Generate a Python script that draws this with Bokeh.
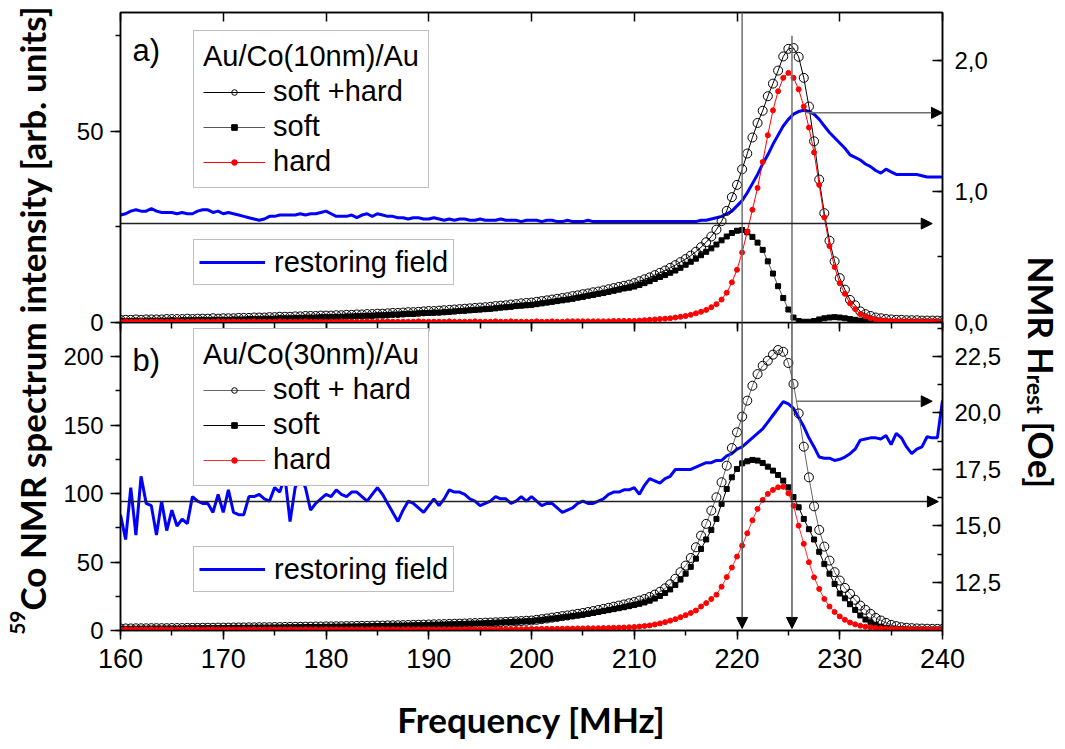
import numpy as np
from math import pi
from bokeh.plotting import figure
from bokeh.models import (Range1d, LinearAxis, SingleIntervalTicker, CustomJSTickFormatter,
                          Legend, LegendItem, Arrow, NormalHead, Label)
from bokeh.layouts import row, column
from bokeh.embed import file_html
from bokeh.resources import INLINE

# ---------------- data (frequency grid 160..240 MHz, step 0.5) ----------------
freq = np.arange(160.0, 240.25, 0.5)

# panel a) Au/Co(10nm)/Au  -- left axis (arb. units)
total_a = [
    0.7, 0.7, 0.7, 0.8, 0.7, 0.8, 0.8, 0.8, 0.8, 0.9,
    0.9, 0.9, 0.9, 1.0, 0.9, 1.0, 1.0, 1.0, 1.1, 1.0,
    1.1, 1.1, 1.1, 1.2, 1.2, 1.2, 1.3, 1.3, 1.3, 1.4,
    1.4, 1.5, 1.5, 1.5, 1.6, 1.6, 1.7, 1.7, 1.7, 1.8,
    1.8, 1.8, 1.9, 1.9, 2.0, 2.0, 2.1, 2.1, 2.2, 2.2,
    2.3, 2.3, 2.4, 2.5, 2.5, 2.6, 2.7, 2.7, 2.8, 2.9,
    3.0, 3.0, 3.1, 3.2, 3.3, 3.4, 3.5, 3.6, 3.7, 3.8,
    3.9, 4.0, 4.1, 4.3, 4.4, 4.5, 4.7, 4.8, 5.0, 5.1,
    5.2, 5.4, 5.6, 5.8, 6.0, 6.2, 6.4, 6.6, 6.9, 7.1,
    7.4, 7.6, 7.9, 8.1, 8.4, 8.7, 9.0, 9.3, 9.6, 9.9,
    10.3, 10.8, 11.3, 11.8, 12.4, 13.0, 13.6, 14.3, 15.0, 15.8,
    16.6, 17.5, 18.5, 19.7, 21.0, 22.5, 24.3, 26.5, 29.2, 32.8,
    36.0, 40.1, 44.2, 48.4, 52.2, 55.4, 59.2, 62.5, 65.9, 69.6,
    71.6, 71.8, 69.5, 64.0, 56.5, 47.4, 37.4, 28.6, 21.4, 16.0,
    11.6, 8.6, 5.9, 4.5, 2.9, 2.2, 1.7, 1.3, 1.1, 0.9,
    0.8, 0.7, 0.7, 0.6, 0.6, 0.6, 0.5, 0.5, 0.5, 0.5,
    0.5]
soft_a = [
    0.4, 0.4, 0.4, 0.5, 0.4, 0.5, 0.5, 0.5, 0.5, 0.5,
    0.6, 0.5, 0.6, 0.6, 0.6, 0.6, 0.7, 0.6, 0.7, 0.7,
    0.7, 0.7, 0.8, 0.8, 0.8, 0.9, 0.9, 0.9, 1.0, 1.0,
    1.0, 1.1, 1.1, 1.1, 1.2, 1.2, 1.3, 1.3, 1.3, 1.4,
    1.4, 1.4, 1.5, 1.5, 1.6, 1.6, 1.7, 1.7, 1.8, 1.8,
    1.9, 1.9, 2.0, 2.1, 2.1, 2.2, 2.3, 2.3, 2.4, 2.5,
    2.5, 2.6, 2.6, 2.7, 2.8, 2.9, 3.0, 3.1, 3.2, 3.3,
    3.4, 3.5, 3.6, 3.7, 3.9, 4.0, 4.1, 4.3, 4.4, 4.5,
    4.6, 4.8, 5.0, 5.2, 5.4, 5.6, 5.8, 6.0, 6.2, 6.5,
    6.7, 7.0, 7.2, 7.5, 7.7, 8.0, 8.3, 8.6, 8.9, 9.1,
    9.4, 9.8, 10.3, 10.8, 11.4, 11.9, 12.4, 13.0, 13.6, 14.3,
    15.1, 15.9, 16.7, 17.6, 18.5, 19.4, 20.4, 21.5, 22.5, 23.4,
    24.0, 24.2, 23.6, 22.4, 20.9, 19.0, 16.0, 12.8, 9.5, 6.4,
    3.4, 1.3, 0.4, 0.2, 0.2, 0.4, 0.8, 1.1, 1.3, 1.4,
    1.3, 1.1, 0.9, 0.7, 0.5, 0.4, 0.3, 0.3, 0.2, 0.2,
    0.2, 0.2, 0.2, 0.2, 0.2, 0.2, 0.2, 0.2, 0.2, 0.2,
    0.2]
hard_a = [
    0.2, 0.3, 0.2, 0.2, 0.3, 0.2, 0.2, 0.3, 0.2, 0.2,
    0.2, 0.3, 0.2, 0.2, 0.2, 0.3, 0.2, 0.2, 0.2, 0.3,
    0.2, 0.2, 0.3, 0.2, 0.2, 0.2, 0.3, 0.2, 0.2, 0.2,
    0.2, 0.3, 0.2, 0.2, 0.2, 0.2, 0.3, 0.2, 0.2, 0.2,
    0.2, 0.2, 0.2, 0.3, 0.2, 0.2, 0.2, 0.2, 0.3, 0.2,
    0.2, 0.2, 0.3, 0.2, 0.2, 0.2, 0.2, 0.2, 0.3, 0.2,
    0.2, 0.2, 0.2, 0.2, 0.3, 0.2, 0.2, 0.2, 0.2, 0.3,
    0.2, 0.2, 0.2, 0.3, 0.2, 0.2, 0.3, 0.2, 0.2, 0.2,
    0.2, 0.3, 0.2, 0.2, 0.3, 0.2, 0.2, 0.3, 0.3, 0.3,
    0.3, 0.3, 0.3, 0.3, 0.3, 0.3, 0.4, 0.4, 0.4, 0.4,
    0.4, 0.5, 0.6, 0.7, 0.8, 0.9, 1.0, 1.1, 1.3, 1.5,
    1.7, 2.0, 2.4, 2.8, 3.3, 4.0, 4.8, 6.0, 7.8, 10.5,
    13.8, 18.3, 23.8, 29.5, 35.2, 42.0, 49.0, 55.5, 60.5, 64.0,
    65.3, 64.0, 61.0, 56.5, 51.0, 44.5, 36.0, 27.5, 20.0, 14.5,
    10.3, 7.5, 5.0, 3.5, 2.2, 1.6, 1.1, 0.8, 0.6, 0.5,
    0.4, 0.4, 0.3, 0.3, 0.3, 0.3, 0.3, 0.3, 0.3, 0.3,
    0.3]
# restoring field a) -- right axis (Oe)
rfield_a = [
    0.82, 0.83, 0.85, 0.86, 0.85, 0.85, 0.87, 0.85, 0.84, 0.84,
    0.84, 0.83, 0.84, 0.83, 0.83, 0.85, 0.86, 0.86, 0.84, 0.85,
    0.83, 0.84, 0.83, 0.82, 0.81, 0.80, 0.79, 0.78, 0.79, 0.81,
    0.81, 0.82, 0.82, 0.82, 0.82, 0.83, 0.82, 0.83, 0.83, 0.84,
    0.85, 0.83, 0.81, 0.81, 0.81, 0.82, 0.80, 0.82, 0.83, 0.81,
    0.83, 0.82, 0.81, 0.81, 0.80, 0.80, 0.79, 0.80, 0.80, 0.79,
    0.79, 0.80, 0.79, 0.78, 0.79, 0.78, 0.79, 0.79, 0.78, 0.78,
    0.79, 0.78, 0.78, 0.78, 0.79, 0.78, 0.78, 0.78, 0.77, 0.78,
    0.78, 0.78, 0.77, 0.78, 0.78, 0.77, 0.77, 0.78, 0.77, 0.77,
    0.77, 0.78, 0.77, 0.77, 0.77, 0.77, 0.77, 0.77, 0.77, 0.77,
    0.77, 0.77, 0.77, 0.77, 0.77, 0.77, 0.77, 0.77, 0.77, 0.77,
    0.77, 0.77, 0.77, 0.78, 0.78, 0.79, 0.80, 0.81, 0.83, 0.85,
    0.89, 0.93, 0.99, 1.06, 1.13, 1.21, 1.28, 1.36, 1.43, 1.50,
    1.55, 1.59, 1.61, 1.62, 1.61, 1.59, 1.55, 1.50, 1.45, 1.41,
    1.37, 1.33, 1.28, 1.26, 1.24, 1.21, 1.19, 1.16, 1.14, 1.17,
    1.15, 1.13, 1.13, 1.13, 1.13, 1.13, 1.12, 1.11, 1.11, 1.11,
    1.11]

# panel b) Au/Co(30nm)/Au
total_b = [
    1.5, 1.5, 1.5, 1.6, 1.6, 1.6, 1.7, 1.7, 1.7, 1.7,
    1.8, 1.8, 1.8, 1.9, 1.9, 1.9, 2.0, 2.0, 2.0, 2.1,
    2.1, 2.1, 2.2, 2.2, 2.2, 2.3, 2.3, 2.4, 2.4, 2.4,
    2.5, 2.5, 2.6, 2.6, 2.7, 2.7, 2.8, 2.8, 2.9, 2.9,
    3.0, 3.0, 3.1, 3.1, 3.2, 3.2, 3.3, 3.4, 3.4, 3.5,
    3.6, 3.6, 3.7, 3.8, 3.8, 3.9, 4.0, 4.1, 4.2, 4.3,
    4.4, 4.5, 4.6, 4.7, 4.8, 4.9, 5.0, 5.1, 5.3, 5.4,
    5.5, 5.7, 5.8, 6.0, 6.1, 6.3, 6.5, 6.7, 6.9, 7.1,
    7.3, 7.8, 8.3, 8.8, 9.4, 9.9, 10.5, 11.0, 11.6, 12.2,
    12.8, 13.5, 14.2, 15.0, 15.8, 16.6, 17.4, 18.2, 19.0, 19.9,
    20.8, 21.9, 23.0, 24.5, 26.2, 28.3, 30.8, 33.8, 37.8, 42.6,
    47.4, 53.0, 60.8, 69.3, 77.9, 87.6, 97.3, 108.3, 120.4, 133.3,
    144.8, 156.2, 167.9, 178.8, 187.3, 193.4, 197.1, 201.5, 204.9, 203.6,
    195.4, 180.1, 158.6, 134.3, 111.9, 90.7, 73.5, 61.3, 51.1, 42.6,
    36.5, 31.1, 26.8, 22.4, 18.2, 15.1, 12.2, 9.2, 7.3, 5.6,
    4.1, 3.2, 2.4, 2.0, 1.7, 1.5, 1.4, 1.3, 1.2, 1.2,
    1.1]
soft_b = [
    1.2, 1.2, 1.2, 1.3, 1.3, 1.3, 1.4, 1.4, 1.4, 1.4,
    1.5, 1.5, 1.5, 1.6, 1.6, 1.6, 1.7, 1.7, 1.7, 1.8,
    1.8, 1.8, 1.9, 1.9, 1.9, 2.0, 2.0, 2.1, 2.1, 2.1,
    2.2, 2.2, 2.3, 2.3, 2.4, 2.4, 2.5, 2.5, 2.6, 2.6,
    2.7, 2.7, 2.8, 2.8, 2.9, 2.9, 3.0, 3.1, 3.1, 3.2,
    3.3, 3.3, 3.4, 3.5, 3.5, 3.6, 3.7, 3.8, 3.9, 4.0,
    4.1, 4.2, 4.3, 4.4, 4.5, 4.6, 4.7, 4.8, 5.0, 5.1,
    5.2, 5.4, 5.5, 5.7, 5.8, 6.0, 6.2, 6.4, 6.6, 6.8,
    7.0, 7.4, 7.8, 8.2, 8.7, 9.1, 9.6, 10.1, 10.6, 11.1,
    11.6, 12.2, 12.8, 13.5, 14.2, 14.9, 15.6, 16.3, 17.0, 17.8,
    18.6, 19.5, 20.5, 21.8, 23.3, 25.2, 27.4, 30.0, 33.3, 37.2,
    41.5, 46.5, 52.5, 59.6, 66.5, 73.5, 81.5, 92.5, 103.4, 111.9,
    118.0, 122.1, 123.6, 124.6, 124.1, 122.4, 119.7, 116.8, 113.6, 109.5,
    104.6, 97.5, 90.0, 81.5, 74.0, 66.5, 57.5, 48.5, 41.5, 34.0,
    27.0, 23.5, 19.2, 15.0, 11.0, 8.0, 6.0, 4.2, 2.8, 1.9,
    1.4, 1.1, 0.9, 0.8, 0.7, 0.7, 0.6, 0.6, 0.6, 0.6,
    0.6]
hard_b = [
    0.8, 0.9, 0.8, 0.9, 0.8, 0.8, 0.9, 0.8, 0.9, 0.8,
    0.9, 0.8, 0.8, 0.9, 0.8, 0.9, 0.8, 0.8, 0.9, 0.8,
    0.8, 0.9, 0.8, 0.8, 0.9, 0.8, 0.9, 0.8, 0.8, 0.9,
    0.8, 0.9, 0.8, 0.9, 0.8, 0.8, 0.9, 0.8, 0.9, 0.8,
    0.9, 0.8, 0.9, 0.8, 0.8, 0.9, 0.8, 0.9, 0.8, 0.9,
    0.8, 0.9, 0.8, 0.9, 0.8, 0.9, 0.9, 0.8, 0.9, 0.8,
    0.9, 0.8, 0.9, 0.9, 0.8, 0.9, 0.9, 0.9, 1.0, 0.9,
    0.9, 1.0, 0.9, 1.0, 1.0, 1.0, 1.0, 1.1, 1.0, 1.1,
    1.1, 1.1, 1.2, 1.2, 1.2, 1.3, 1.3, 1.4, 1.4, 1.5,
    1.5, 1.6, 1.6, 1.7, 1.8, 1.9, 2.0, 2.1, 2.2, 2.4,
    2.6, 2.9, 3.3, 3.7, 4.4, 5.2, 6.1, 7.2, 8.3, 9.7,
    11.2, 12.8, 14.6, 17.5, 20.0, 23.0, 26.2, 32.0, 39.0, 46.0,
    54.0, 62.0, 71.0, 80.5, 88.8, 95.4, 99.8, 102.7, 104.6, 105.0,
    100.2, 91.2, 76.6, 63.3, 49.9, 38.9, 30.4, 23.0, 17.5, 13.5,
    10.3, 7.8, 5.8, 4.5, 3.5, 2.8, 2.3, 1.9, 1.6, 1.4,
    1.3, 1.2, 1.1, 1.0, 1.0, 0.9, 0.9, 0.9, 0.9, 0.9,
    0.9]
rfield_b = [
    15.5, 14.4, 16.7, 14.6, 17.2, 16.0, 15.9, 14.6, 16.1, 14.8,
    15.7, 15.0, 15.3, 15.1, 16.3, 16.1, 16.0, 16.0, 15.6, 16.4,
    15.6, 16.6, 15.6, 15.5, 15.5, 16.3, 16.3, 16.4, 16.2, 16.1,
    16.7, 16.5, 17.2, 15.2, 16.7, 17.2, 16.7, 15.7, 16.0, 16.2,
    16.4, 16.3, 16.6, 16.4, 16.3, 16.5, 16.5, 16.3, 16.1, 16.4,
    16.7, 16.4, 16.0, 15.6, 15.2, 15.7, 16.1, 16.0, 15.8, 15.6,
    15.9, 16.2, 15.9, 16.2, 16.6, 16.5, 16.5, 16.4, 16.2, 16.1,
    15.9, 16.0, 16.1, 16.3, 16.2, 16.2, 16.0, 16.1, 16.3, 16.1,
    16.3, 16.1, 15.9, 16.0, 16.0, 15.8, 15.6, 15.7, 15.8, 16.0,
    16.1, 16.0, 16.0, 16.1, 16.2, 16.4, 16.5, 16.5, 16.6, 16.6,
    16.7, 16.4, 16.8, 17.1, 17.0, 16.9, 17.1, 17.2, 17.5, 17.5,
    17.5, 17.5, 17.6, 17.7, 17.8, 17.8, 17.9, 17.9, 18.1, 18.2,
    18.4, 18.5, 18.7, 18.9, 19.1, 19.3, 19.6, 19.9, 20.2, 20.5,
    20.4, 20.2, 19.8, 19.4, 18.9, 18.5, 18.05, 18.0, 18.0, 17.9,
    17.95, 18.05, 18.2, 18.4, 18.8, 18.85, 18.9, 18.9, 18.85, 19.0,
    18.6, 19.1, 18.9, 18.5, 18.2, 18.4, 18.5, 18.95, 18.9, 18.9,
    20.55]

# guide lines / arrows (frequency markers and field levels)
marker_freqs = [220.5, 225.35]
base_field_a, peak_field_a = 0.755, 1.60
base_field_b, peak_field_b = 16.08, 20.52
peak_arrow_start = [226.8, 225.8]

XLIM = (160, 240)
YLIM_A, YRLIM_A = (0, 81.1), (0, 2.366)
YLIM_B, YRLIM_B = (0, 225), (10.376, 24.004)

TICKF = "Liberation Sans"
LABF = "Lato"
OVERLAP = 16   # px of panel a's lower border hidden under panel b

xr = Range1d(*XLIM)


def comma_fmt():
    return CustomJSTickFormatter(code="return tick.toFixed(1).replace('.', ',');")


def make_panel(h, btop, bbot, ylim, yrlim, lint, rint):
    p = figure(width=965, height=h, x_range=xr, y_range=Range1d(*ylim),
               output_backend="svg", toolbar_location=None,
               x_axis_location=None, y_axis_location=None,
               min_border_left=65, min_border_right=78,
               min_border_top=btop, min_border_bottom=bbot)
    p.extra_y_ranges = {"r": Range1d(*yrlim)}
    p.grid.grid_line_color = None
    p.outline_line_color = "black"
    p.outline_line_width = 1.5
    p.background_fill_color = "white"

    la = LinearAxis(ticker=SingleIntervalTicker(interval=lint, num_minor_ticks=2))
    la.major_tick_in = 0
    la.major_tick_out = 10
    la.minor_tick_in = 0
    la.minor_tick_out = 5
    la.major_label_standoff = 7
    la.major_label_text_font = TICKF
    la.major_label_text_font_size = "24px"
    la.major_label_text_color = "black"
    la.axis_line_width = 1.5
    la.major_tick_line_width = 1.5
    la.minor_tick_line_width = 1.5
    p.add_layout(la, "left")

    ra = LinearAxis(y_range_name="r",
                    ticker=SingleIntervalTicker(interval=rint, num_minor_ticks=2),
                    formatter=comma_fmt())
    ra.major_tick_in = 10
    ra.major_tick_out = 0
    ra.minor_tick_in = 5
    ra.minor_tick_out = 0
    ra.major_label_standoff = 12
    ra.major_label_text_font = TICKF
    ra.major_label_text_font_size = "24px"
    ra.major_label_text_color = "black"
    ra.axis_line_width = 1.5
    ra.major_tick_line_width = 1.5
    ra.minor_tick_line_width = 1.5
    p.add_layout(ra, "right")
    return p


def hidden_top_axis(major_in, minor_in):
    ax = LinearAxis(ticker=SingleIntervalTicker(interval=10, num_minor_ticks=2),
                    formatter=CustomJSTickFormatter(code="return '';"))
    ax.major_label_text_font_size = "1px"
    ax.major_label_standoff = 0
    ax.major_tick_out = 0
    ax.minor_tick_out = 0
    ax.major_tick_in = major_in
    ax.minor_tick_in = minor_in
    ax.axis_line_width = 1.5
    ax.major_tick_line_width = 1.5
    ax.minor_tick_line_width = 1.5
    if minor_in == 0:
        ax.minor_tick_line_color = None
    return ax


def add_series(p, total, soft, hard, rfield, tcol, scol, hcol):
    blue = p.line(freq, rfield, y_range_name="r", line_color="#0000ff", line_width=3)
    t_l = p.line(freq, total, line_color=tcol, line_width=1)
    t_p = p.scatter(freq, total, marker="circle", size=9, fill_color=None,
                    line_color="black", line_width=1)
    s_l = p.line(freq, soft, line_color=scol, line_width=1)
    s_p = p.scatter(freq, soft, marker="square", size=5, fill_color="black",
                    line_color="black")
    h_l = p.line(freq, hard, line_color=hcol, line_width=1)
    h_p = p.scatter(freq, hard, marker="circle", size=5, fill_color="#ff0000",
                    line_color="#ff0000")
    return blue, (t_l, t_p), (s_l, s_p), (h_l, h_p)


def add_legends(p, title, labels, groups, blue, loc_main, loc_rf):
    items = [LegendItem(label=lab, renderers=list(g)) for lab, g in zip(labels, groups)]
    lg = Legend(items=items, title=title, location=loc_main,
                label_text_font=TICKF, label_text_font_size="29px", label_text_color="black",
                title_text_font=TICKF, title_text_font_size="29px", title_text_color="black",
                title_text_font_style="normal", title_standoff=2,
                glyph_width=62, glyph_height=14, label_height=33,
                label_standoff=8, spacing=2, padding=9, margin=0,
                border_line_color="#808080", border_line_width=1,
                background_fill_color="white", background_fill_alpha=1.0)
    p.add_layout(lg, "center")
    lr = Legend(items=[LegendItem(label="restoring field", renderers=[blue])],
                location=loc_rf,
                label_text_font=TICKF, label_text_font_size="29px", label_text_color="black",
                glyph_width=66, glyph_height=34, label_height=34,
                label_standoff=9, padding=5, margin=0,
                border_line_color="#808080", border_line_width=1,
                background_fill_color="white", background_fill_alpha=1.0)
    p.add_layout(lr, "center")


def head():
    return NormalHead(size=11, fill_color="black", line_color="black", line_width=1)


# ---------------- panel a ----------------
pa = make_panel(322 + OVERLAP, 12, OVERLAP, YLIM_A, YRLIM_A, 50, 1.0)
pa.add_layout(hidden_top_axis(9, 0), "above")
blue_a, ga_t, ga_s, ga_h = add_series(pa, total_a, soft_a, hard_a, rfield_a,
                                      "black", "#555555", "#ff0000")
pa.add_layout(Arrow(end=None, x_start=marker_freqs[0], y_start=YLIM_A[1],
                    x_end=marker_freqs[0], y_end=0, line_color="#707070", line_width=1.5))
pa.add_layout(Arrow(end=None, x_start=marker_freqs[1], y_start=75,
                    x_end=marker_freqs[1], y_end=0, line_color="#707070", line_width=1.5))
pa.add_layout(Arrow(end=head(), x_start=XLIM[0], y_start=base_field_a, x_end=239.0,
                    y_end=base_field_a, y_range_name="r", line_color="#222222", line_width=1.5))
pa.add_layout(Arrow(end=head(), x_start=peak_arrow_start[0], y_start=peak_field_a, x_end=240.0,
                    y_end=peak_field_a, y_range_name="r", line_color="#707070", line_width=1.5))
add_legends(pa, "Au/Co(10nm)/Au", ["soft +hard", "soft", "hard"],
            [ga_t, ga_s, ga_h], blue_a, (73, 134), (73, 37))
pa.add_layout(Label(x=12, y=290, x_units="screen", y_units="screen", text="a)",
                    text_font=TICKF, text_font_size="31px", text_baseline="top",
                    text_color="black"))

# ---------------- panel b ----------------
pb = make_panel(427, 0, 119, YLIM_B, YRLIM_B, 50, 2.5)
pb.border_fill_color = None
pb.margin = (-OVERLAP, 0, 0, 0)
pb.add_layout(hidden_top_axis(9, 6), "above")
xa = LinearAxis(ticker=SingleIntervalTicker(interval=10, num_minor_ticks=2))
xa.major_tick_in = 0
xa.major_tick_out = 9
xa.minor_tick_in = 0
xa.minor_tick_out = 5
xa.major_label_standoff = 9
xa.major_label_text_font = TICKF
xa.major_label_text_font_size = "27px"
xa.major_label_text_color = "black"
xa.axis_line_width = 1.5
xa.major_tick_line_width = 1.5
xa.minor_tick_line_width = 1.5
xa.axis_label = "Frequency [MHz]"
xa.axis_label_text_font = LABF
xa.axis_label_text_font_style = "bold"
xa.axis_label_text_font_size = "35px"
xa.axis_label_text_color = "black"
xa.axis_label_standoff = 27
pb.add_layout(xa, "below")
blue_b, gb_t, gb_s, gb_h = add_series(pb, total_b, soft_b, hard_b, rfield_b,
                                      "#666666", "black", "#ff3030")
for f in marker_freqs:
    pb.add_layout(Arrow(end=head(), x_start=f, y_start=YLIM_B[1], x_end=f, y_end=1.5,
                        line_color="#555555", line_width=1.5))
pb.add_layout(Arrow(end=head(), x_start=XLIM[0], y_start=base_field_b, x_end=239.6,
                    y_end=base_field_b, y_range_name="r", line_color="#222222", line_width=1.5))
pb.add_layout(Arrow(end=head(), x_start=peak_arrow_start[1], y_start=peak_field_b, x_end=239.0,
                    y_end=peak_field_b, y_range_name="r", line_color="#707070", line_width=1.5))
add_legends(pb, "Au/Co(30nm)/Au", ["soft + hard", "soft", "hard"],
            [gb_t, gb_s, gb_h], blue_b, (73, 144), (73, 38))
pb.add_layout(Label(x=12, y=288, x_units="screen", y_units="screen", text="b)",
                    text_font=TICKF, text_font_size="31px", text_baseline="top",
                    text_color="black"))


# ---------------- side label strips ----------------
def strip(w):
    s = figure(width=w, height=749, x_range=Range1d(0, 1), y_range=Range1d(0, 1),
               output_backend="svg", toolbar_location=None,
               x_axis_location=None, y_axis_location=None, min_border=0)
    s.grid.grid_line_color = None
    s.outline_line_color = None
    return s


pl = strip(55)
pl.add_layout(Label(x=31, y=139, x_units="screen", y_units="screen", angle=pi / 2,
                    text="Co NMR spectrum intensity [arb. units]", text_align="left",
                    text_baseline="alphabetic", text_font=LABF, text_font_style="bold",
                    text_font_size="35px", text_color="black"))
pl.add_layout(Label(x=17, y=139, x_units="screen", y_units="screen", angle=pi / 2,
                    text="59", text_align="right", text_baseline="alphabetic",
                    text_font=LABF, text_font_style="bold", text_font_size="21px",
                    text_color="black"))

pr = strip(45)
pr.add_layout(Label(x=21, y=375, x_units="screen", y_units="screen", angle=-pi / 2,
                    text="NMR H", text_align="right", text_baseline="alphabetic",
                    text_font=LABF, text_font_style="bold", text_font_size="35px",
                    text_color="black"))
pr.add_layout(Label(x=15, y=375, x_units="screen", y_units="screen", angle=-pi / 2,
                    text="rest", text_align="left", text_baseline="alphabetic",
                    text_font=LABF, text_font_style="bold", text_font_size="23px",
                    text_color="black"))
pr.add_layout(Label(x=21, y=328, x_units="screen", y_units="screen", angle=-pi / 2,
                    text="[Oe]", text_align="left", text_baseline="alphabetic",
                    text_font=LABF, text_font_style="bold", text_font_size="35px",
                    text_color="black"))

layout = row(pl, column(pa, pb), pr)
open("out.html", "w").write(file_html(layout, INLINE))
